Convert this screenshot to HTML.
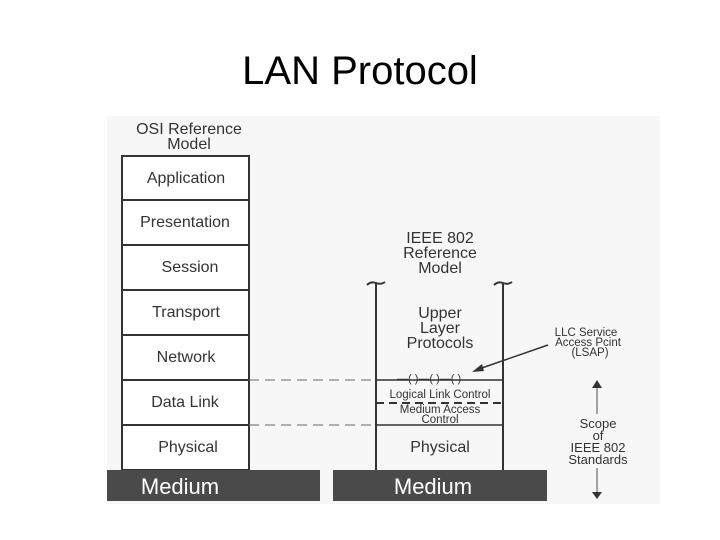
<html><body style="margin:0;background:#fff">
<svg width="720" height="540" xmlns="http://www.w3.org/2000/svg" font-family="Liberation Sans, sans-serif">
<rect width="720" height="540" fill="#fff"/>
<rect x="107" y="116" width="553" height="388" fill="#f7f7f7"/>
<text x="360" y="84" font-size="40" text-anchor="middle" fill="#000">LAN Protocol</text>
<g fill="#333" text-anchor="middle">
<text x="189" y="134" font-size="16">OSI Reference</text>
<text x="189" y="149" font-size="16">Model</text>
</g>
<g stroke="#333" stroke-width="2" fill="#fff">
<rect x="122" y="156" width="127" height="314"/>
<line x1="122" y1="200" x2="249" y2="200"/>
<line x1="122" y1="245" x2="249" y2="245"/>
<line x1="122" y1="290" x2="249" y2="290"/>
<line x1="122" y1="335" x2="249" y2="335"/>
<line x1="122" y1="380" x2="249" y2="380"/>
<line x1="122" y1="425" x2="249" y2="425"/>
</g>
<g fill="#333" font-size="16" text-anchor="middle">
<text x="186" y="183">Application</text>
<text x="185" y="227">Presentation</text>
<text x="190" y="272">Session</text>
<text x="186" y="317">Transport</text>
<text x="186" y="362">Network</text>
<text x="185" y="407">Data Link</text>
<text x="188" y="452">Physical</text>
</g>
<g stroke="#666" stroke-width="1" stroke-dasharray="10,6">
<line x1="249" y1="380" x2="376" y2="380"/>
<line x1="249" y1="425" x2="376" y2="425"/>
</g>
<g fill="#333" text-anchor="middle" font-size="16">
<text x="440" y="243">IEEE 802</text>
<text x="440" y="258">Reference</text>
<text x="440" y="273">Model</text>
<text x="440" y="318">Upper</text>
<text x="440" y="333">Layer</text>
<text x="440" y="348">Protocols</text>
<text x="440" y="452">Physical</text>
<text x="440" y="398" font-size="11.5">Logical Link Control</text>
<text x="440" y="413" font-size="11.5">Medium Access</text>
<text x="440" y="423" font-size="11.5">Control</text>
</g>
<g stroke="#333" stroke-width="2" fill="none">
<line x1="376" y1="283" x2="376" y2="470"/>
<line x1="503" y1="283" x2="503" y2="470"/>
<path d="M367 285 q4 -4 9 -2 q5 2 9 -1"/>
<path d="M494 285 q4 -4 9 -2 q5 2 9 -1"/>
<line x1="376" y1="380" x2="503" y2="380" stroke-width="1.5"/>
<line x1="376" y1="403" x2="503" y2="403" stroke-dasharray="8,5"/>
<line x1="376" y1="425" x2="503" y2="425" stroke-width="1.5"/>
<line x1="548" y1="345" x2="476" y2="370" stroke-width="1.5"/>
</g>
<text x="397" y="382" font-size="11" fill="#333">—(  )—(  )—(  )</text>
<polygon points="472,372 482,364 484,371" fill="#333"/>
<g fill="#333" font-size="11.5" text-anchor="middle">
<text x="586" y="336">LLC Service</text>
<text x="588" y="346">Access Pcint</text>
<text x="590" y="356">(LSAP)</text>
<text x="598" y="428" font-size="13">Scope</text>
<text x="598" y="440" font-size="13">of</text>
<text x="598" y="452" font-size="13">IEEE 802</text>
<text x="598" y="464" font-size="13">Standards</text>
</g>
<line x1="597" y1="388" x2="597" y2="414" stroke="#888" stroke-width="1.5"/>
<line x1="597" y1="468" x2="597" y2="492" stroke="#888" stroke-width="1.5"/>
<polygon points="592,388 602,388 597,380" fill="#333"/>
<polygon points="592,492 602,492 597,499" fill="#333"/>
<rect x="107" y="470" width="213" height="31" fill="#4a4a4a"/>
<rect x="333" y="470" width="214" height="31" fill="#4a4a4a"/>
<g fill="#fff" font-size="22" text-anchor="middle">
<text x="180" y="494">Medium</text>
<text x="433" y="494">Medium</text>
</g>
</svg>
</body></html>
